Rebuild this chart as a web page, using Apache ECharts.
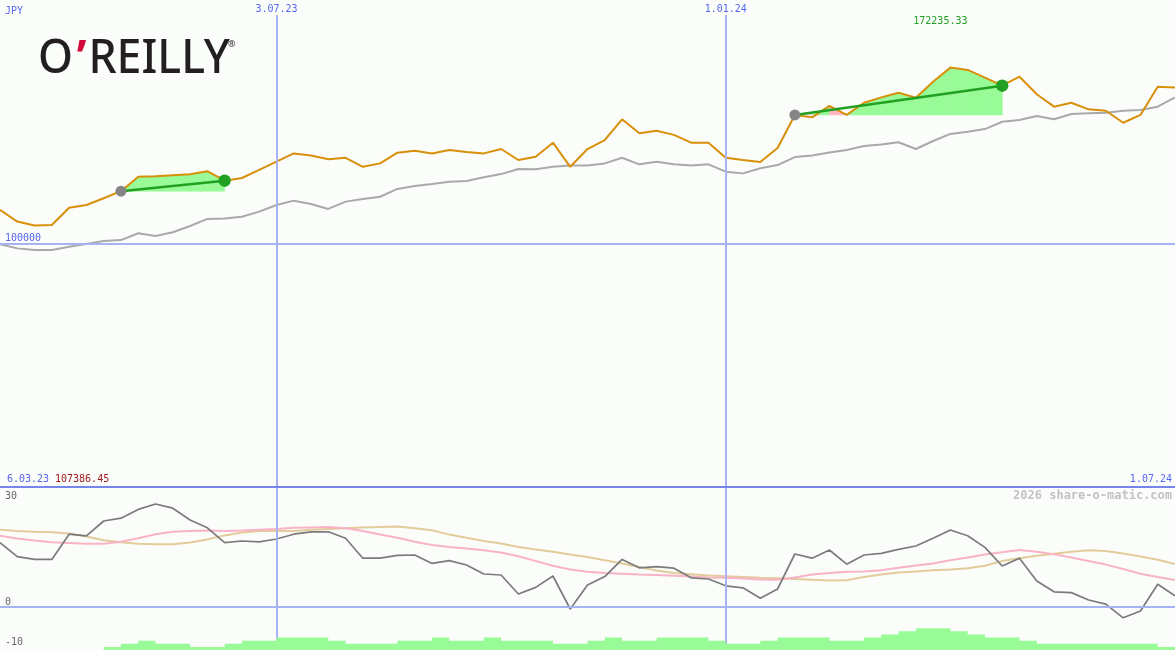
<!DOCTYPE html>
<html><head><meta charset="utf-8">
<script src="https://cdn.jsdelivr.net/npm/echarts@6/dist/echarts.min.js"></script>
<style>html,body{margin:0;padding:0;background:#fbfdfb}#c{width:1175px;height:650px}</style>
</head><body><div id="c"></div>
<script>
// ---- data (weekly points) ----
const price = [113800,109000,107386.45,107600,114700,115800,118600,121500,127400,127600,128000,128400,129700,125800,126900,130200,133600,137000,136100,134600,135200,131500,132900,137300,138100,137000,138400,137600,137000,138800,134300,135600,141400,131500,138800,142500,151000,145300,146300,144600,141400,141400,135200,134300,133500,139200,152800,151800,156500,152800,157800,160000,161900,159900,166400,172235.33,171300,168100,164800,168500,161300,156200,157800,155100,154500,149600,152800,164400,164100];
const average = [99700,98000,97300,97300,98700,99800,101000,101400,104200,103100,104600,107200,110100,110300,111000,113100,115800,117600,116200,114200,117200,118300,119200,122400,123600,124400,125400,125700,127200,128500,130600,130500,131500,132000,132000,132900,135200,132500,133600,132500,132000,132500,129500,128800,130900,132200,135500,136100,137400,138400,140000,140700,141600,138800,142100,145000,145900,147000,150000,150700,152400,151000,153200,153500,153700,154500,154800,156200,160000];
const oscMain = [16.1,12.6,11.9,11.9,18.2,17.8,21.5,22.2,24.4,25.75,24.7,21.75,19.8,16.1,16.5,16.3,17,18.2,18.8,18.8,17.2,12.2,12.2,12.9,13,10.9,11.6,10.5,8.25,8,3.25,4.9,7.75,-0.5,5.5,7.6,11.9,9.8,10.1,9.7,7.3,7,5.3,4.8,2.2,4.5,13.25,12.2,14.25,10.7,13,13.4,14.4,15.25,17.2,19.25,17.8,14.9,10.25,12.2,6.5,3.8,3.6,1.75,0.7,-2.7,-1,5.7,2.8];
const oscPink = [17.8,17.1,16.6,16.2,16.0,15.8,15.8,16.3,17.2,18.2,18.8,19.0,19.1,19.0,19.1,19.3,19.5,19.8,19.9,20.0,19.7,19.0,18.1,17.3,16.3,15.5,15.0,14.6,14.2,13.6,12.7,11.5,10.3,9.4,8.8,8.5,8.3,8.1,8.0,7.8,7.6,7.4,7.3,7.1,6.9,6.8,7.4,8.1,8.5,8.8,8.9,9.2,9.8,10.4,10.9,11.7,12.4,13.1,13.7,14.25,13.8,13.2,12.4,11.5,10.6,9.5,8.3,7.5,6.75];
const oscTan = [19.3,19.0,18.8,18.7,18.4,17.6,16.7,16.2,15.8,15.7,15.7,16.1,16.9,17.9,18.6,19.0,19.0,19.0,19.3,19.5,19.7,19.9,20.0,20.1,19.7,19.2,18.1,17.3,16.5,15.9,15.0,14.4,13.8,13.1,12.5,11.7,10.9,10.0,9.1,8.5,8.2,7.9,7.7,7.5,7.3,7.2,7.0,6.8,6.6,6.7,7.5,8.1,8.6,8.9,9.2,9.4,9.7,10.3,11.5,12.2,12.8,13.3,13.8,14.2,14.0,13.4,12.6,11.8,10.75];
const volume = [0,0,0,0,0,0,1,2,3,2,2,1,1,2,3,3,4,4,4,3,2,2,2,3,3,4,3,3,4,3,3,3,2,2,3,4,3,3,4,4,4,3,2,2,3,4,4,4,3,3,4,5,6,7,7,6,5,4,4,3,2,2,2,2,2,2,2,1,1];
const trades = [[7,13],[46,58]];
const dateTickIdx = [16,42];
const dateTickLabels = ['3.07.23','1.01.24'];
const priceTicks = [100000];
const oscTicks = [-10,0,30];
const firstDate = '6.03.23';
const lastDate = '1.07.24';
const currency = 'JPY';
const credit = '2026 share-o-matic.com';

// ---- styles ----
const MONO = 'DejaVu Sans Mono';
const BLUE_TXT = '#5566ee';
const GRID_LIGHT = '#a6b2f4';
const GRID_DARK = '#7585ea';
const GREEN_FILL = '#98fb98';
const PINK_FILL = '#ffb6c1';
const TREND = '#22a022';

const idx = a => a.map((v,i)=>[i,v]);
const N = price.length - 1;

const chart = echarts.init(document.getElementById('c'), null, {renderer:'canvas'});

function fillItem(params, api){
  const s = api.value(0), e = api.value(1);
  const base = price[s];
  const slope = (price[e]-price[s])/(e-s);
  const yb = api.coord([s, base])[1];
  const children = [];
  for (let k=s; k<e; k++){
    const p0 = api.coord([k, Math.max(price[k], base)]);
    const p1 = api.coord([k+1, Math.max(price[k+1], base)]);
    const below = price[k+1] < base + slope*(k+1-s) - 1e-6;
    const col = below ? PINK_FILL : GREEN_FILL;
    children.push({type:'polygon', shape:{points:[[p0[0],yb],p0,p1,[p1[0],yb]]},
      style:{fill:col, stroke:col, lineWidth:0.6}});
  }
  return {type:'group', children};
}
function trendItem(params, api){
  const s = api.value(0), e = api.value(1);
  const a = api.coord([s, price[s]]), b = api.coord([e, price[e]]);
  return {type:'group', children:[
    {type:'line', shape:{x1:a[0],y1:a[1],x2:b[0],y2:b[1]}, style:{stroke:TREND, lineWidth:2.5}},
    {type:'circle', shape:{cx:a[0],cy:a[1],r:5.5}, style:{fill:'#858585'}},
    {type:'circle', shape:{cx:b[0],cy:b[1],r:6.2}, style:{fill:TREND}}
  ]};
}

const vLines = dateTickIdx.map((k,i)=>({xAxis:k, label:{formatter:dateTickLabels[i]}}));

const option = {
  animation:false,
  backgroundColor:'#fbfdfb',
  grid:[
    {left:0,right:0,top:15,height:472},
    {left:0,right:0,top:487,height:160},
    {left:0,right:0,top:600,height:50}
  ],
  xAxis:[
    {gridIndex:0,type:'value',min:0,max:N,show:false},
    {gridIndex:1,type:'value',min:0,max:N,position:'top',z:5,
      axisLine:{show:true,onZero:false,lineStyle:{color:GRID_DARK,width:2}},
      axisTick:{show:false},axisLabel:{show:false},splitLine:{show:false}},
    {gridIndex:2,type:'value',min:0,max:N,show:false}
  ],
  yAxis:[
    {gridIndex:0,type:'value',min:0,max:193840,interval:100000,
      name:currency,nameLocation:'end',nameGap:0,
      nameTextStyle:{align:'left',verticalAlign:'bottom',padding:[0,0,-1,5],color:BLUE_TXT,fontFamily:MONO,fontSize:10},
      axisLine:{show:false},axisTick:{show:false},splitLine:{show:false},
      axisLabel:{inside:true,margin:5,verticalAlign:'bottom',color:BLUE_TXT,fontFamily:MONO,fontSize:10,
        formatter:v=>priceTicks.includes(v)?String(v):''}},
    {gridIndex:1,type:'value',min:-10,max:30,interval:10,
      axisLine:{show:false},axisTick:{show:false},splitLine:{show:false},
      axisLabel:{inside:true,margin:5,verticalAlign:'bottom',verticalAlignMaxLabel:'top',padding:[4,0,0,0],
        color:'#666',fontFamily:MONO,fontSize:10,
        formatter:v=>oscTicks.includes(v)?String(v):''}},
    {gridIndex:2,type:'value',min:0,max:16.1,show:false}
  ],
  series:[
    // top panel grid lines carrier
    {type:'line',xAxisIndex:0,yAxisIndex:0,data:idx(price),showSymbol:false,silent:true,z:0,
      lineStyle:{opacity:0},
      markLine:{silent:true,symbol:'none',animation:false,
        lineStyle:{color:GRID_LIGHT,width:2,type:'solid'},
        label:{position:'end',distance:1,color:BLUE_TXT,fontFamily:MONO,fontSize:10},
        data:[...vLines, ...priceTicks.map(v=>({yAxis:v,label:{show:false}}))]}},
    {type:'custom',xAxisIndex:0,yAxisIndex:0,renderItem:fillItem,data:trades,z:1,silent:true},
    {type:'line',xAxisIndex:0,yAxisIndex:0,data:idx(average),showSymbol:false,z:2,
      lineStyle:{color:'#a9a9a9',width:2}},
    {type:'line',xAxisIndex:0,yAxisIndex:0,data:idx(price),showSymbol:false,z:3,
      lineStyle:{color:'#d8900a',width:2},
      markPoint:{symbol:'circle',symbolSize:0,silent:true,
        label:{show:true,color:TREND,fontFamily:MONO,fontSize:10,offset:[-10,-46],
          formatter:p=>Number(p.value).toFixed(2)},
        data:[{type:'max'}]}},
    {type:'custom',xAxisIndex:0,yAxisIndex:0,renderItem:trendItem,data:trades,z:4,silent:true},
    // bottom panel
    {type:'line',xAxisIndex:1,yAxisIndex:1,data:idx(oscTan),showSymbol:false,z:2,
      lineStyle:{color:'#e3cb9b',width:2},
      markLine:{silent:true,symbol:'none',animation:false,
        lineStyle:{color:GRID_LIGHT,width:2,type:'solid'},label:{show:false},
        data:[...dateTickIdx.map(k=>({xAxis:k})), {yAxis:oscTicks[1]}]}},
    {type:'line',xAxisIndex:1,yAxisIndex:1,data:idx(oscPink),showSymbol:false,z:3,
      lineStyle:{color:'#f9b3c6',width:2}},
    {type:'line',xAxisIndex:1,yAxisIndex:1,data:idx(oscMain),showSymbol:false,z:4,
      lineStyle:{color:'#7b7b7b',width:1.7}},
    {type:'line',xAxisIndex:2,yAxisIndex:2,data:idx(volume),step:'end',showSymbol:false,z:6,
      lineStyle:{width:0},areaStyle:{color:GREEN_FILL,opacity:1}}
  ],
  graphic:[
    {type:'text',x:7,y:479,style:{text:firstDate,fill:BLUE_TXT,font:'10px '+MONO,textVerticalAlign:'middle'}},
    {type:'text',x:55,y:479,style:{text:Math.min(...price).toFixed(2),fill:'#a01c1c',font:'10px '+MONO,textVerticalAlign:'middle'}},
    {type:'text',x:1172,y:479,style:{text:lastDate,fill:BLUE_TXT,font:'10px '+MONO,textAlign:'right',textVerticalAlign:'middle'}},
    {type:'text',x:1172,y:496,style:{text:credit,fill:'#c2c2c2',font:'bold 12px '+MONO,textAlign:'right',textVerticalAlign:'middle'}},
    {type:'text',x:38,y:60,scaleX:0.95,style:{text:'{a|O}{r|’}{a|REILLY}',textVerticalAlign:'middle',
      rich:{a:{fill:'#231f20',fontFamily:'Noto Sans',fontWeight:500,fontSize:47},
            r:{fill:'#d3073c',fontFamily:'Noto Sans',fontWeight:700,fontSize:47,padding:[0,2,0,4]}}}},
    {type:'text',x:228,y:44,style:{text:'®',fill:'#231f20',font:'9px Noto Sans',textVerticalAlign:'middle'}}
  ]
};
chart.setOption(option);
</script></body></html>
